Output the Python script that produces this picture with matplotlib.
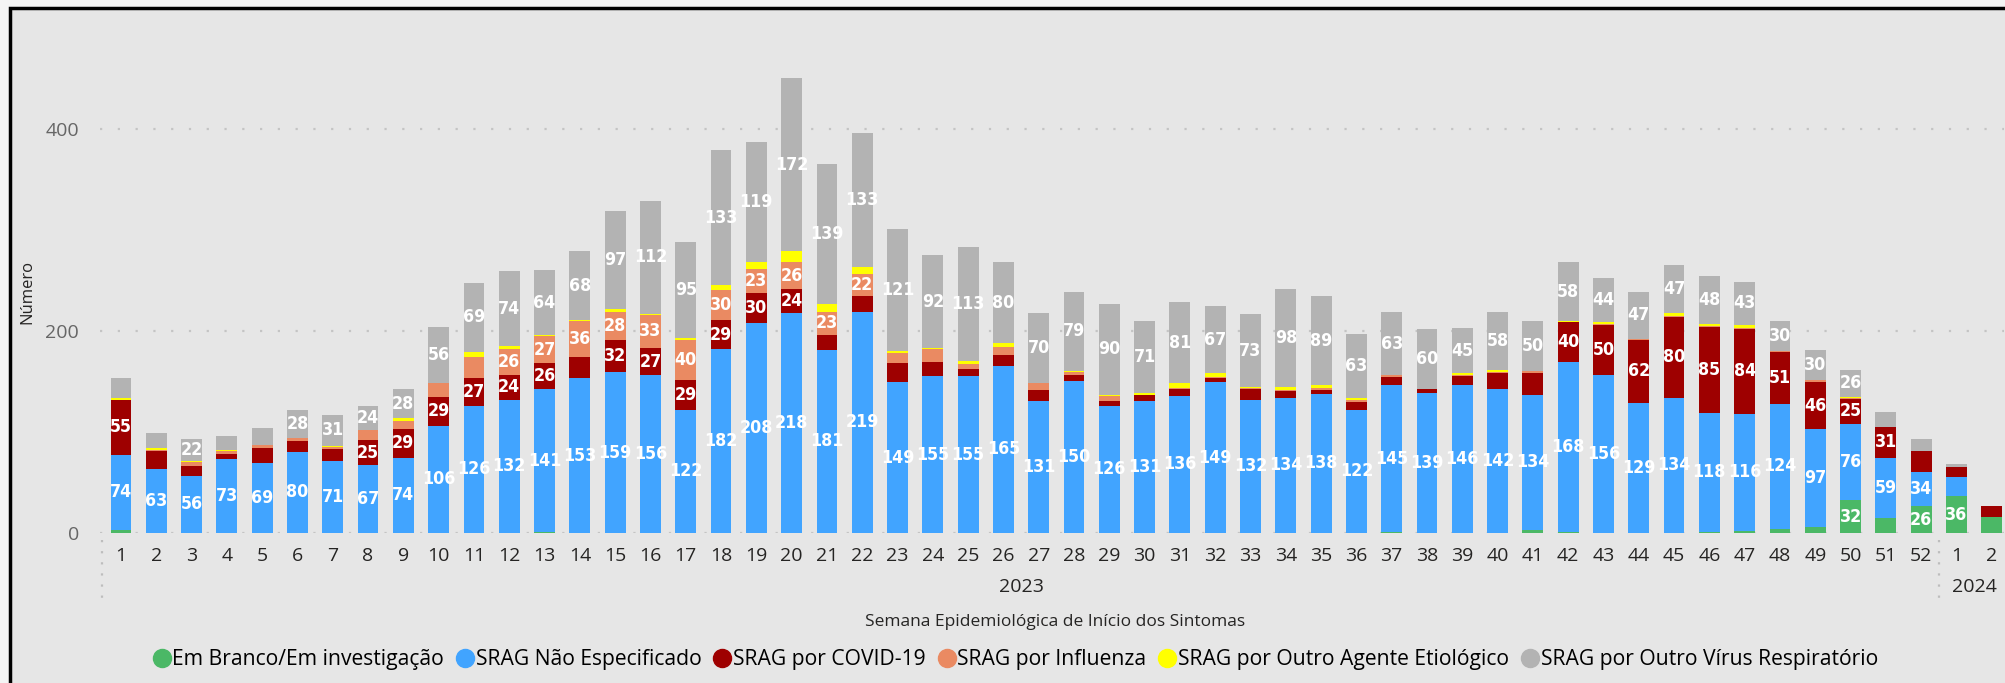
import numpy as np
import matplotlib
matplotlib.use('Agg')
import matplotlib.pyplot as plt
from matplotlib.lines import Line2D
from matplotlib.patches import Rectangle
from matplotlib.transforms import blended_transform_factory

# weeks 1-52 of 2023, then 1-2 of 2024
weeks = [str(w) for w in range(1, 53)] + ['1', '2']

em_branco = [3, 0, 0, 0, 0, 0, 0, 0, 0, 0, 0, 0, 1, 0, 0, 0, 0, 0, 0, 0, 0, 0, 0, 0, 0, 0, 0,
             0, 0, 0, 0, 0, 0, 0, 0, 0, 1, 0, 0, 0, 3, 1, 0, 0, 0, 1, 2, 4, 6, 32, 15, 26, 36, 16]
nao_espec = [74, 63, 56, 73, 69, 80, 71, 67, 74, 106, 126, 132, 141, 153, 159, 156, 122, 182, 208, 218, 181, 219, 149, 155, 155, 165, 131,
             150, 126, 131, 136, 149, 132, 134, 138, 122, 145, 139, 146, 142, 134, 168, 156, 129, 134, 118, 116, 124, 97, 76, 59, 34, 19, 0]
covid = [55, 18, 10, 5, 15, 11, 12, 25, 29, 29, 27, 24, 26, 21, 32, 27, 29, 29, 30, 24, 15, 16, 19, 14, 7, 11, 10,
         6, 5, 6, 6, 4, 10, 6, 3, 8, 8, 3, 9, 16, 21, 40, 50, 62, 80, 85, 84, 51, 46, 25, 31, 21, 10, 10]
influenza = [0, 1, 4, 3, 3, 3, 2, 10, 8, 13, 21, 26, 27, 36, 28, 33, 40, 30, 23, 26, 23, 22, 10, 13, 5, 8, 7,
             3, 5, 0, 1, 1, 1, 1, 2, 2, 2, 0, 1, 1, 2, 0, 1, 1, 1, 1, 1, 1, 2, 1, 0, 0, 0, 0]
outro_agente = [2, 2, 1, 1, 0, 0, 1, 0, 3, 0, 5, 3, 1, 1, 3, 1, 2, 5, 7, 11, 8, 6, 2, 1, 3, 4, 0,
                1, 1, 2, 5, 4, 1, 3, 3, 2, 0, 0, 2, 2, 0, 1, 2, 0, 3, 2, 3, 0, 0, 1, 0, 0, 0, 0]
outro_virus = [19, 15, 22, 14, 17, 28, 31, 24, 28, 56, 69, 74, 64, 68, 97, 112, 95, 133, 119, 172, 139, 133, 121, 92, 113, 80, 70,
               79, 90, 71, 81, 67, 73, 98, 89, 63, 63, 60, 45, 58, 50, 58, 44, 47, 47, 48, 43, 30, 30, 26, 15, 12, 3, 0]

series_names = ['Em Branco/Em investigação', 'SRAG Não Especificado', 'SRAG por COVID-19',
                'SRAG por Influenza', 'SRAG por Outro Agente Etiológico', 'SRAG por Outro Vírus Respiratório']
series = [em_branco, nao_espec, covid, influenza, outro_agente, outro_virus]
colors = ['#4BB866', '#41A4FF', '#9E0000', '#EA8A62', '#FFFF00', '#B3B3B3']

bg = '#E6E6E6'
fig = plt.figure(figsize=(20.06, 6.83), dpi=100)
fig.patch.set_facecolor('#F4F4F4')
fig.add_artist(Rectangle((10/2006, -0.1), 1.2, 1.1 - 8/683, transform=fig.transFigure,
                         facecolor=bg, edgecolor='black', linewidth=2.5, zorder=-10))

ax = fig.add_axes([0.04975, 0.2201, 0.9493, 0.7087])
ax.set_facecolor(bg)
ax.patch.set_alpha(0)

x = np.arange(len(weeks))
bottom = np.zeros(len(weeks))
for vals, c in zip(series, colors):
    vals = np.array(vals)
    ax.bar(x, vals, 0.59, bottom=bottom, color=c, zorder=3)
    # labels only where the segment is tall enough
    for xi, b, v in zip(x, bottom, vals):
        if v >= 22:
            ax.text(xi, b + v / 2, str(v), ha='center', va='center', color='white',
                    fontsize=12.8, fontweight='bold', fontstretch='condensed',
                    family='DejaVu Sans', zorder=4)
    bottom += vals

ax.set_xlim(-0.6, 53.35)
ax.set_ylim(0, 480)
ax.set_yticks([0, 200, 400])
ax.grid(axis='y', color='#C4C4C4', linestyle=(0, (1, 7)), linewidth=1.6, zorder=0)
for s in ax.spines.values():
    s.set_visible(False)
ax.set_xticks(x)
ax.set_xticklabels(weeks, family='Open Sans', fontsize=14, color='#252423')
ax.tick_params(axis='x', length=0, pad=10)
ax.tick_params(axis='y', length=0, pad=15, labelsize=14, labelcolor='#666666')
for t in ax.get_yticklabels():
    t.set_family('Open Sans')

# year row
tr = blended_transform_factory(ax.transData, fig.transFigure)
ax.text(25.5, 1 - 587/683, '2023', transform=tr, ha='center', va='center', fontsize=14,
        family='Open Sans', color='#252423')
ax.text(52.5, 1 - 587/683, '2024', transform=tr, ha='center', va='center', fontsize=14,
        family='Open Sans', color='#252423')
for xs in [-0.54, 51.5]:
    ax.add_line(Line2D([xs, xs], [1 - 540/683, 1 - 602/683], transform=tr, color='#BDBDBD',
                       linestyle=(0, (1, 4)), linewidth=1.6, clip_on=False))

fig.text(27/2006, 1 - 292/683, 'Número', rotation=90, ha='center', va='center', fontsize=12,
         family='Open Sans', color='#252423')
fig.text(1055/2006, 1 - 622/683, 'Semana Epidemiológica de Início dos Sintomas', ha='center', va='center',
         fontsize=12.5, family='Open Sans', color='#252423')

handles = [Line2D([], [], marker='o', linestyle='none', markersize=13, markerfacecolor=c, markeredgecolor=c)
           for c in colors]
fig.legend(handles, series_names, loc='center', bbox_to_anchor=(1015/2006, 1 - 660/683), ncol=6,
           frameon=False, handletextpad=0.05, columnspacing=0.55, handlelength=0.9,
           prop={'family': 'Open Sans', 'size': 15.2})

fig.savefig('out.png', dpi=100, facecolor=fig.get_facecolor())
